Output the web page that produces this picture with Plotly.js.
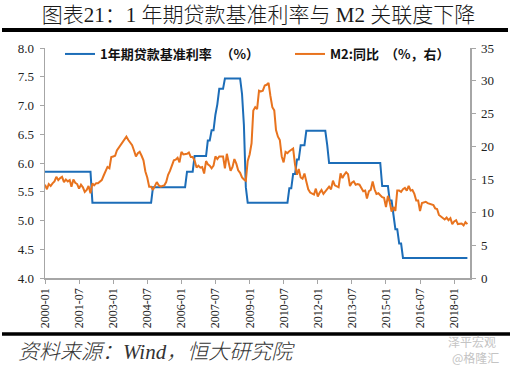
<!DOCTYPE html>
<html>
<head>
<meta charset="utf-8">
<script src="https://cdn.plot.ly/plotly-3.0.1.min.js"></script>
<style>
html,body{margin:0;padding:0;background:#fff;}
#chart{width:510px;height:365px;}
</style>
</head>
<body>
<div id="chart"></div>
<script>
// ---- data ----
const startYear = 2000;
const monthCount = 224; // 2000-01 .. 2018-08
const months = [];
for (let i = 0; i < monthCount; i++) {
  const y = startYear + Math.floor(i / 12);
  const m = (i % 12) + 1;
  months.push(y + '-' + (m < 10 ? '0' + m : m));
}

// 1-year benchmark lending rate (%), monthly
const loanRate = [
  5.85,5.85,5.85,5.85,5.85,5.85,5.85,5.85,5.85,5.85,5.85,5.85, // 2000
  5.85,5.85,5.85,5.85,5.85,5.85,5.85,5.85,5.85,5.85,5.85,5.85, // 2001
  5.85,5.31,5.31,5.31,5.31,5.31,5.31,5.31,5.31,5.31,5.31,5.31, // 2002
  5.31,5.31,5.31,5.31,5.31,5.31,5.31,5.31,5.31,5.31,5.31,5.31, // 2003
  5.31,5.31,5.31,5.31,5.31,5.31,5.31,5.31,5.31,5.58,5.58,5.58, // 2004
  5.58,5.58,5.58,5.58,5.58,5.58,5.58,5.58,5.58,5.58,5.58,5.58, // 2005
  5.58,5.58,5.58,5.85,5.85,5.85,5.85,6.12,6.12,6.12,6.12,6.12, // 2006
  6.12,6.12,6.39,6.39,6.57,6.57,6.84,7.02,7.29,7.29,7.29,7.47, // 2007
  7.47,7.47,7.47,7.47,7.47,7.47,7.47,7.47,7.20,6.66,5.58,5.31, // 2008
  5.31,5.31,5.31,5.31,5.31,5.31,5.31,5.31,5.31,5.31,5.31,5.31, // 2009
  5.31,5.31,5.31,5.31,5.31,5.31,5.31,5.31,5.31,5.56,5.56,5.81, // 2010
  5.81,6.06,6.06,6.31,6.31,6.31,6.56,6.56,6.56,6.56,6.56,6.56, // 2011
  6.56,6.56,6.56,6.56,6.56,6.31,6.00,6.00,6.00,6.00,6.00,6.00, // 2012
  6.00,6.00,6.00,6.00,6.00,6.00,6.00,6.00,6.00,6.00,6.00,6.00, // 2013
  6.00,6.00,6.00,6.00,6.00,6.00,6.00,6.00,6.00,6.00,5.60,5.60, // 2014
  5.60,5.60,5.35,5.35,5.10,4.85,4.85,4.60,4.60,4.35,4.35,4.35, // 2015
  4.35,4.35,4.35,4.35,4.35,4.35,4.35,4.35,4.35,4.35,4.35,4.35, // 2016
  4.35,4.35,4.35,4.35,4.35,4.35,4.35,4.35,4.35,4.35,4.35,4.35, // 2017
  4.35,4.35,4.35,4.35,4.35,4.35,4.35,4.35                      // 2018
];

// M2 YoY (%), monthly, right axis
const m2Yoy = [
  14.2,13.5,14.3,14.0,14.4,14.7,15.4,14.9,15.2,15.4,14.6,15.0, // 2000
  14.7,14.9,13.9,15.0,14.5,14.3,13.6,14.2,13.8,13.1,13.4,14.0, // 2001
  12.9,14.4,14.1,14.4,14.4,14.7,14.9,15.6,16.2,16.9,16.7,18.4, // 2002
  18.5,18.6,19.4,19.8,20.3,20.7,21.0,21.5,21.0,20.6,20.2,19.4, // 2003
  18.5,19.0,19.2,18.6,17.9,16.2,15.3,13.9,13.9,13.4,14.0,14.6, // 2004
  14.1,13.9,14.0,14.1,14.6,15.7,16.3,17.2,17.9,18.0,18.3,17.6, // 2005
  19.2,18.8,18.8,18.9,19.1,18.4,18.4,17.9,16.8,17.1,16.8,16.9, // 2006
  15.9,17.8,17.3,17.1,16.7,17.1,18.5,18.1,18.5,18.5,18.5,16.7, // 2007
  18.9,17.5,16.3,16.9,18.1,17.4,16.4,16.0,15.3,15.0,14.8,17.8, // 2008
  18.8,20.5,25.5,26.0,25.7,28.5,28.4,28.5,29.3,29.4,29.7,27.7, // 2009
  26.0,25.5,22.5,21.5,21.0,18.5,17.6,19.2,19.0,19.3,19.5,19.7, // 2010
  17.2,15.7,16.6,15.3,15.1,15.9,14.7,13.5,13.0,12.9,12.7,13.6, // 2011
  12.4,13.0,13.4,12.8,13.2,13.6,13.9,13.5,14.8,14.1,13.9,13.8, // 2012
  15.9,15.2,15.7,16.1,15.8,14.0,14.5,14.7,14.2,14.3,14.2,13.6, // 2013
  13.2,13.3,12.1,13.2,13.4,14.7,13.5,12.8,12.9,12.6,12.3,12.2, // 2014
  10.8,12.5,11.6,10.1,10.8,10.2,13.3,13.3,13.1,13.5,13.7,13.3, // 2015
  14.0,13.3,13.4,12.8,11.8,11.8,10.2,11.4,11.5,11.6,11.4,11.3, // 2016
  11.3,11.1,10.6,10.5,9.6,9.4,9.2,8.9,9.2,8.8,9.1,8.2,         // 2017
  8.6,8.8,8.2,8.3,8.3,8.0,8.5,8.2                              // 2018
];

const xTickLabels = ['2000-01','2001-07','2003-01','2004-07','2006-01','2007-07',
  '2009-01','2010-07','2012-01','2013-07','2015-01','2016-07','2018-01'];

const seriesNames = ['1年期贷款基准利率\u00a0\u00a0\u00a0（%）', 'M2:同比\u00a0\u00a0（%，右）'];
const titleText = '图表21：1\u00a0年期贷款基准利率与\u00a0M2\u00a0关联度下降';
const sourceText = '资料来源：Wind，恒大研究院';

// ---- chart ----
const blue = '#1c6db8';
const orange = '#e8731e';
const axisGrey = '#a6a6a6';
const serif = '"Liberation Serif", "Times New Roman", serif';
const cjk = '"Liberation Serif", "Noto Sans CJK SC", serif';
const legendFont = {family: '"Noto Sans CJK SC", sans-serif', size: 13, color: '#111', weight: 'bold'};

const traces = [
  {x: months, y: loanRate, name: seriesNames[0], type: 'scatter', mode: 'lines',
   line: {color: blue, width: 2}, yaxis: 'y', legend: 'legend'},
  {x: months, y: m2Yoy, name: seriesNames[1], type: 'scatter', mode: 'lines',
   line: {color: orange, width: 2}, yaxis: 'y2', legend: 'legend2'}
];

// page px -> paper coordinates helpers (plot area 45..470 x, 48..278 y)
const PL = 45, PR = 470, PT = 48, PB = 278;
const px = v => (v - PL) / (PR - PL);
const py = v => (PB - v) / (PB - PT);

const axisCommon = {
  showline: true, linecolor: axisGrey, linewidth: 1.5,
  ticks: 'outside', ticklen: 4, tickcolor: axisGrey, tickwidth: 1,
  showgrid: false, zeroline: false, fixedrange: true
};

const layout = {
  width: 510, height: 365,
  margin: {l: PL, r: 510 - PR, t: PT, b: 365 - PB, pad: 0},
  paper_bgcolor: '#fff', plot_bgcolor: '#fff',
  showlegend: true,
  title: {text: titleText, font: {family: cjk, size: 21, color: '#1a1a1a', weight: 300},
          xref: 'container', x: 0.507, xanchor: 'center',
          yref: 'container', y: 1 - 15 / 365, yanchor: 'middle'},
  legend: {orientation: 'h', x: px(60), y: py(39), xanchor: 'left', yanchor: 'top',
           bgcolor: 'rgba(0,0,0,0)', font: legendFont, itemwidth: 30},
  legend2: {orientation: 'h', x: px(290), y: py(39), xanchor: 'left', yanchor: 'top',
           bgcolor: 'rgba(0,0,0,0)', font: legendFont, itemwidth: 30},
  xaxis: Object.assign({type: 'date', range: ['2000-01-01', '2018-09-12'],
          tickmode: 'array', tickvals: xTickLabels.map(s => s + '-01'), ticktext: xTickLabels,
          tickangle: -90, tickfont: {family: serif, size: 12, color: '#222'}}, axisCommon),
  yaxis: Object.assign({range: [4, 8], dtick: 0.5, tick0: 4, tickformat: '.1f',
          tickfont: {family: serif, size: 13, color: '#222'}, ticklabelstandoff: 3}, axisCommon),
  yaxis2: Object.assign({range: [0, 35], dtick: 5, tick0: 0, overlaying: 'y', side: 'right',
           tickfont: {family: serif, size: 13, color: '#222'}, ticklabelstandoff: 3}, axisCommon),
  shapes: [
    {type: 'line', xref: 'paper', yref: 'paper', x0: px(2), x1: px(508), y0: py(30), y1: py(30),
     line: {color: '#000', width: 4}},
    {type: 'line', xref: 'paper', yref: 'paper', x0: px(2), x1: px(510), y0: py(334), y1: py(334),
     line: {color: '#000', width: 3.5}}
  ],
  annotations: [
    {text: sourceText, xref: 'paper', yref: 'paper', x: px(16), y: py(352),
     xanchor: 'left', yanchor: 'middle', showarrow: false,
     font: {family: cjk, size: 21, color: '#333', style: 'italic', weight: 300}},
    {text: '泽平宏观', xref: 'paper', yref: 'paper', x: px(446), y: py(341),
     xanchor: 'left', yanchor: 'middle', showarrow: false,
     font: {family: '"Noto Sans CJK SC", sans-serif', size: 12, color: '#c4c4c4'}},
    {text: '@格隆汇', xref: 'paper', yref: 'paper', x: px(450), y: py(357),
     xanchor: 'left', yanchor: 'middle', showarrow: false,
     font: {family: '"Noto Sans CJK SC", sans-serif', size: 12, color: '#c4c4c4'}}
  ]
};

Plotly.newPlot('chart', traces, layout, {displayModeBar: false, staticPlot: true});
</script>
</body>
</html>
